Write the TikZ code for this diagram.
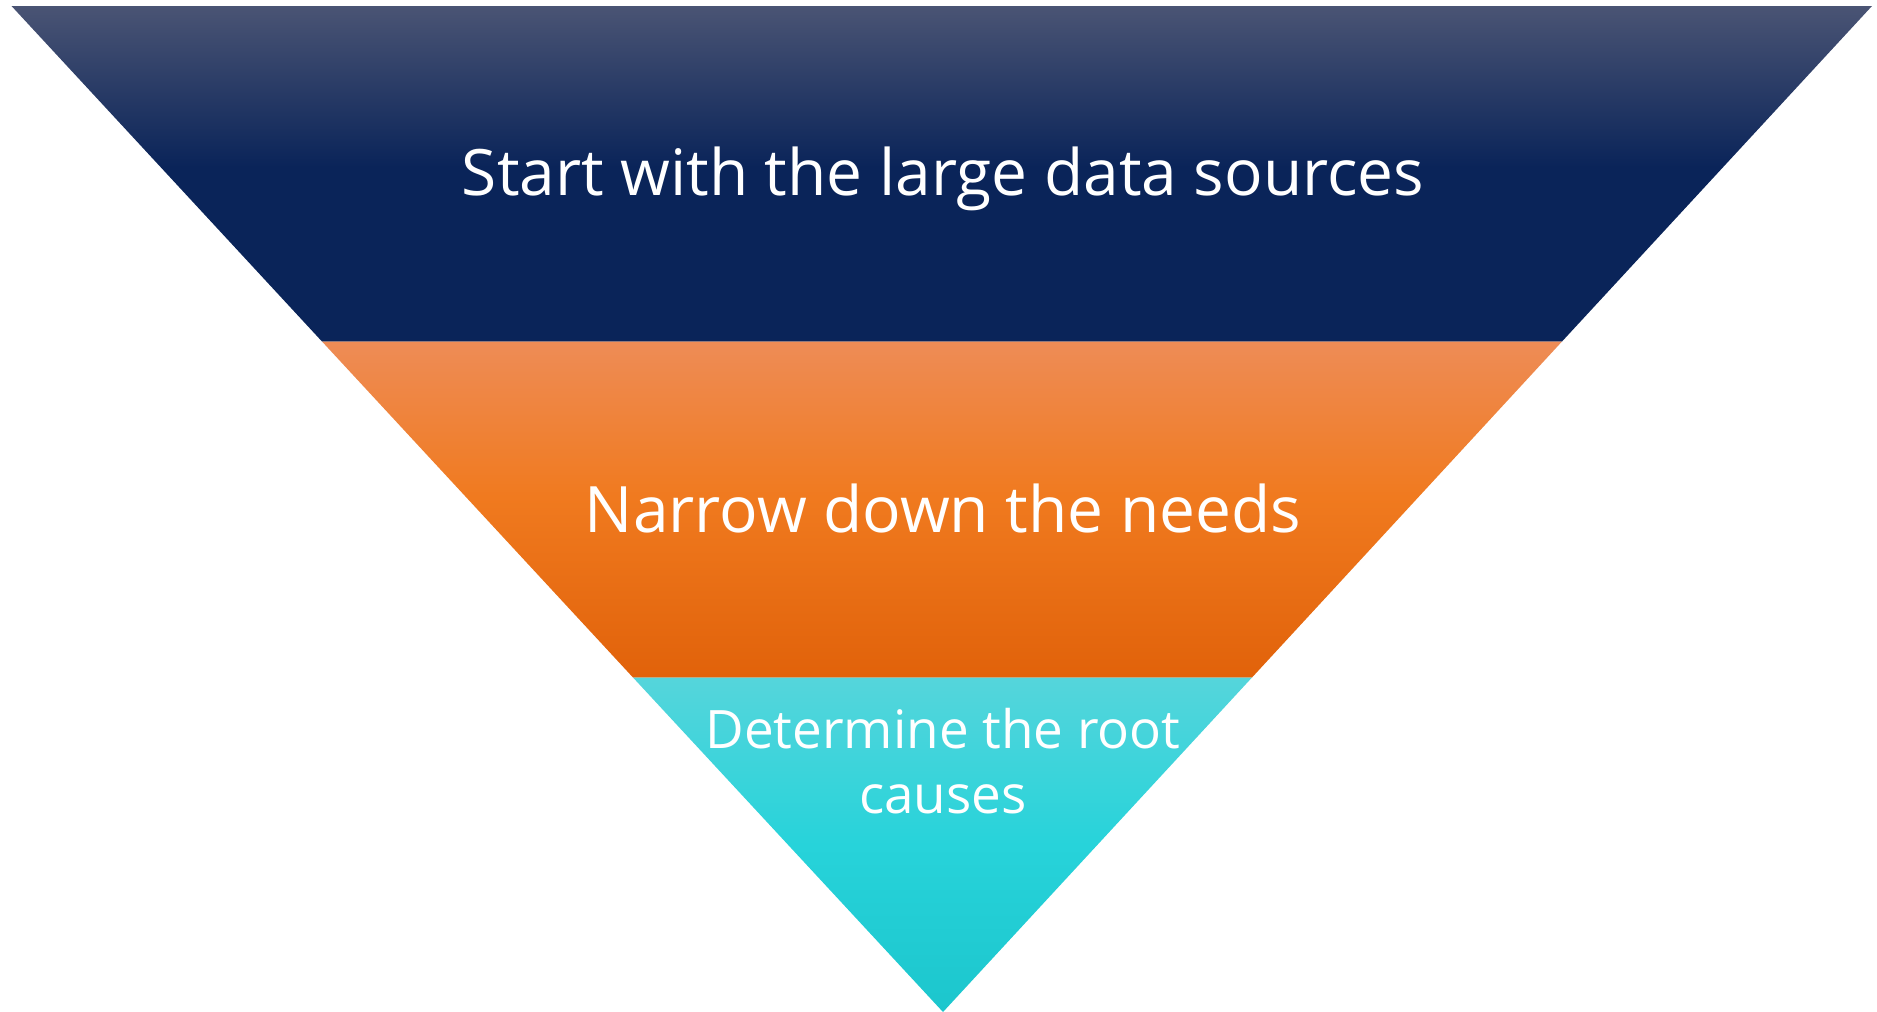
\documentclass[tikz,border=0pt]{standalone}
\usepackage{fontspec}
\newfontfamily\funnelfont{Open Sans}

% band colours
\definecolor{navytop}{HTML}{4A5474}
\definecolor{navy}{HTML}{0A2459}
\definecolor{orangetop}{HTML}{EE8C56}
\definecolor{orangemid}{HTML}{F07A1F}
\definecolor{orangebot}{HTML}{E1620A}
\definecolor{tealtop}{HTML}{55D5DB}
\definecolor{tealmid}{HTML}{27D3DA}
\definecolor{tealbot}{HTML}{1CC6CD}

% vertical gradients; the filled path spans 25bp (bottom) to 75bp (top)
\pgfdeclareverticalshading{bandtop}{100bp}{color(0bp)=(navy); color(25bp)=(navy); color(51bp)=(navy); color(75bp)=(navytop); color(100bp)=(navytop)}
\pgfdeclareverticalshading{bandmid}{100bp}{color(0bp)=(orangebot); color(25bp)=(orangebot); color(52bp)=(orangemid); color(75bp)=(orangetop); color(100bp)=(orangetop)}
\pgfdeclareverticalshading{bandlow}{100bp}{color(0bp)=(tealbot); color(25bp)=(tealbot); color(50bp)=(tealmid); color(75bp)=(tealtop); color(100bp)=(tealtop)}

\begin{document}
\begin{tikzpicture}[x=1pt,y=-1pt,
  bandlabel/.style={text=white, inner sep=0pt, align=center}]
\useasboundingbox (0,0) rectangle (1877,1012);

% corner points of the funnel
\coordinate (tl) at (11.5,6);
\coordinate (tr) at (1872,6);
\coordinate (ml) at (322,341.5);
\coordinate (mr) at (1562,341.5);
\coordinate (ll) at (633,677.5);
\coordinate (lr) at (1252,677.5);
\coordinate (apex) at (943,1012);

% the three stages
\shade[shading=bandtop] (tl) -- (tr) -- (mr) -- (ml) -- cycle;
\shade[shading=bandmid] (ml) -- (mr) -- (lr) -- (ll) -- cycle;
\shade[shading=bandlow] (ll) -- (lr) -- (apex) -- cycle;

% stage labels
\node[bandlabel, anchor=base, font=\funnelfont\fontsize{64}{75}\selectfont] (lbltop) at (943,195) {Start with the large data sources};
\node[bandlabel, anchor=base, font=\funnelfont\fontsize{64}{75}\selectfont] (lblmid) at (943,532) {Narrow down the needs};
\node[bandlabel, anchor=north, font=\funnelfont\fontsize{53}{65}\selectfont] (lbllow) at (943,708) {Determine the root\\causes};
\end{tikzpicture}
\end{document}
